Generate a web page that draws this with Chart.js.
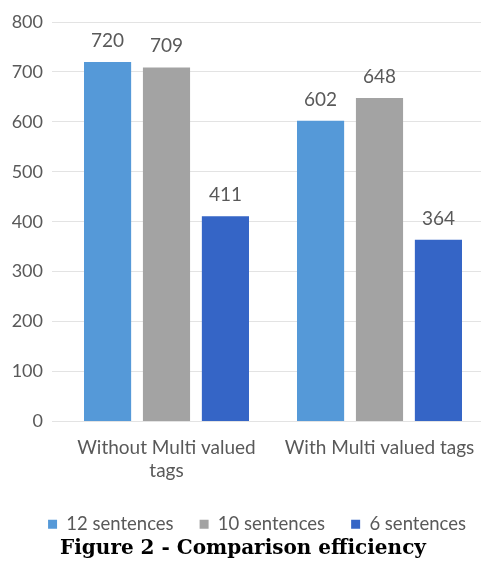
<!DOCTYPE html>
<html>
<head>
<meta charset="utf-8">
<script src="https://cdn.jsdelivr.net/npm/chart.js@4"></script>
<style>
  html,body{margin:0;padding:0;background:#fff;overflow:hidden;}
  #wrap{width:486px;height:561px;position:relative;}
</style>
</head>
<body>
<div id="wrap"><canvas id="cvs"></canvas></div>
<script>
/* ===== data ===== */
const categories = [['Without Multi valued','tags'], 'With Multi valued tags'];
const seriesNames = ['12 sentences', '10 sentences', '6 sentences'];
const s12 = [720, 602];
const s10 = [709, 648];
const s6  = [411, 364];
const yTicks = [0, 100, 200, 300, 400, 500, 600, 700, 800];
const titleText = 'Figure 2 - Comparison efficiency';

const COLORS = ['#5599d8', '#a3a3a3', '#3565c6'];
const FONT = 'Lato';
const TXT = '#595959';

// value labels above bars (no datalabels plugin offline)
const valLabels = {id:'valLabels', afterDatasetsDraw(c){
  const {ctx} = c;
  ctx.save();
  ctx.font = `19px ${FONT}`; ctx.fillStyle = TXT;
  ctx.textAlign = 'center'; ctx.textBaseline = 'alphabetic';
  c.data.datasets.forEach((ds, i) => {
    c.getDatasetMeta(i).data.forEach((bar, j) => ctx.fillText(ds.data[j], bar.x, bar.y - 15));
  });
  ctx.restore();
}};
// legend sits a bit right of centre in the original
const legendNudge = {id:'legendNudge', afterLayout(c){
  if(c.legend){ c.legend.left += 14; c.legend.right += 14; }
}};

const mkBar = (label, data, col) => ({label, data, backgroundColor:col, borderWidth:0,
  barPercentage:0.80, categoryPercentage:0.83});

new Chart(document.getElementById('cvs'), {
  type:'bar',
  data:{
    labels:categories,
    datasets:[
      mkBar(seriesNames[0], s12, COLORS[0]),
      mkBar(seriesNames[1], s10, COLORS[1]),
      mkBar(seriesNames[2], s6,  COLORS[2]),
    ]
  },
  options:{
    responsive:true, maintainAspectRatio:false, animation:false,
    layout:{padding:{top:22, left:0, right:0, bottom:0}},
    plugins:{
      legend:{position:'bottom', maxHeight:48, labels:{boxWidth:9, boxHeight:9, padding:26,
        color:TXT, font:{family:FONT, size:18.5}}},
      title:{display:true, text:titleText, position:'bottom', color:'#000',
        padding:{top:0, bottom:0}, font:{family:'DejaVu Serif', size:20, weight:'bold'}},
      tooltip:{enabled:false}
    },
    scales:{
      x:{grid:{display:false}, border:{display:false},
         ticks:{color:TXT, padding:7, maxRotation:0, font:{family:FONT, size:19}}},
      y:{min:0, max:800, grid:{color:'#e3e3e3', lineWidth:1}, border:{display:false},
         afterFit:s=>{s.width = 60;},
         afterBuildTicks:s=>{s.ticks = yTicks.map(v=>({value:v}));},
         ticks:{color:TXT, padding:9, font:{family:FONT, size:18}}}
    }
  },
  plugins:[valLabels, legendNudge]
});
</script>
</body>
</html>
